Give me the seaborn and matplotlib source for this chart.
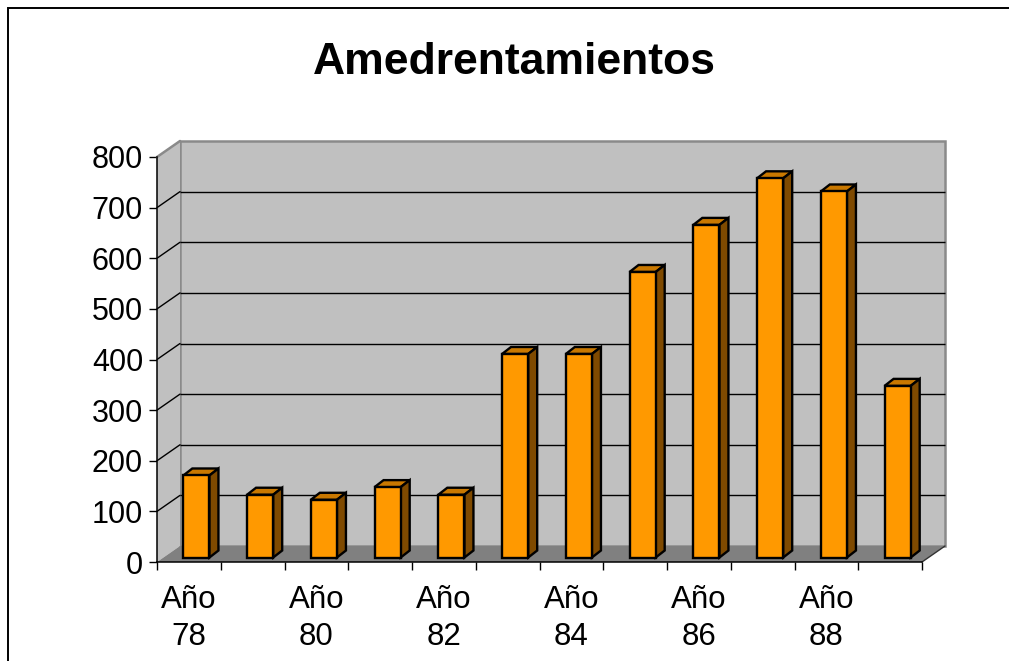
import numpy as np
import pandas as pd
import matplotlib
matplotlib.use("Agg")
import matplotlib.pyplot as plt
import seaborn as sns
from matplotlib.patches import Polygon, Rectangle
from matplotlib.lines import Line2D
from matplotlib.transforms import ScaledTranslation, IdentityTransform

# ---------------- data ----------------
categories = ["Año 78", "Año 79", "Año 80", "Año 81", "Año 82", "Año 83",
              "Año 84", "Año 85", "Año 86", "Año 87", "Año 88", "Año 89"]
values = [162, 124, 114, 139, 124, 402, 402, 564, 657, 749, 723, 339]
y_ticks = [0, 100, 200, 300, 400, 500, 600, 700, 800]
title = "Amedrentamientos"

# ---------------- style ----------------
sns.set_theme(style="white")
plt.rcParams['font.family'] = ['Liberation Sans', 'DejaVu Sans']

W, H, DPI = 1009, 661, 100
fig = plt.figure(figsize=(W / DPI, H / DPI), dpi=DPI)
fig.patch.set_facecolor("white")
ax = fig.add_axes([157 / W, 99 / H, 765 / W, 405 / H])
ax.patch.set_visible(False)

FRONT = "#FF9900"
TOP = "#C97800"
SIDE = "#7F4A00"
WALL_C = "#C0C0C0"
FLOOR_C = "#808080"
WALL_EDGE = "#8A8A8A"

WALL = np.array([23.0, 16.0])       # depth of the plot box, pixels
BAR_FRONT = np.array([7.5, 4.5])    # bar front face offset, pixels
BAR_DEPTH = np.array([9.0, 7.0])    # bar depth, pixels

df = pd.DataFrame({"cat": categories, "val": values})
sns.barplot(data=df, x="cat", y="val", width=0.41, color=FRONT, saturation=1,
            edgecolor="black", linewidth=1.7, ax=ax, zorder=6)
bars = list(ax.patches)

ax.set_xlim(-0.5, len(categories) - 0.5)
ax.set_ylim(y_ticks[0], y_ticks[-1])
ax.set_xlabel("")
ax.set_ylabel("")

x0a, x1a = ax.get_xlim()
y0a, y1a = ax.get_ylim()


def off(d):
    return ax.transData + ScaledTranslation(d[0] / DPI, d[1] / DPI, fig.dpi_scale_trans)


def P(x, y, d=(0, 0)):
    p = ax.transData.transform((x, y))
    return (p[0] + d[0], p[1] + d[1])


ident = IdentityTransform()

# back wall
ax.add_patch(Rectangle((x0a, y0a), x1a - x0a, y1a - y0a, transform=off(WALL),
                       facecolor=WALL_C, edgecolor=WALL_EDGE, linewidth=1.8,
                       zorder=0.5, clip_on=False))
# left wall
ax.add_patch(Polygon([P(x0a, y0a), P(x0a, y1a), P(x0a, y1a, WALL), P(x0a, y0a, WALL)],
                     closed=True, transform=ident, facecolor=WALL_C, edgecolor="none",
                     zorder=0.6, clip_on=False))
ax.add_line(Line2D(*zip(P(x0a, y1a), P(x0a, y1a, WALL)), transform=ident,
                   color=WALL_EDGE, linewidth=1.8, zorder=0.7, clip_on=False))
# back-wall gridlines
ax.hlines(y_ticks[1:-1], x0a, x1a, transform=off(WALL), colors="black",
          linewidth=1.0, zorder=0.8, clip_on=False)
# left-wall gridlines
for yv in y_ticks[1:-1]:
    ax.add_line(Line2D(*zip(P(x0a, yv), P(x0a, yv, WALL)), transform=ident,
                       color="black", linewidth=1.0, zorder=0.8, clip_on=False))
# floor
ax.add_patch(Polygon([P(x0a, y0a), P(x1a, y0a), P(x1a, y0a, WALL), P(x0a, y0a, WALL)],
                     closed=True, transform=ident, facecolor=FLOOR_C, edgecolor="none",
                     zorder=1, clip_on=False))
ax.add_line(Line2D(*zip(P(x1a, y0a), P(x1a, y0a, WALL)), transform=ident,
                   color="#333333", linewidth=1.0, zorder=1.1, clip_on=False))

# 3D bars
for b in bars:
    b.set_transform(off(BAR_FRONT))
    b.set_clip_on(False)
    b.set_joinstyle("miter")
    bx, bw, bh = b.get_x(), b.get_width(), b.get_height()
    F = BAR_FRONT
    B = BAR_FRONT + BAR_DEPTH
    top = [P(bx, bh, F), P(bx + bw, bh, F), P(bx + bw, bh, B), P(bx, bh, B)]
    side = [P(bx + bw, 0, F), P(bx + bw, bh, F), P(bx + bw, bh, B), P(bx + bw, 0, B)]
    ax.add_patch(Polygon(top, closed=True, transform=ident, facecolor=TOP,
                         edgecolor="black", linewidth=1.7, joinstyle="miter",
                         zorder=5, clip_on=False))
    ax.add_patch(Polygon(side, closed=True, transform=ident, facecolor=SIDE,
                         edgecolor="black", linewidth=1.7, joinstyle="miter",
                         zorder=5, clip_on=False))

# axes / ticks
for s in ["top", "right"]:
    ax.spines[s].set_visible(False)
for s in ["left", "bottom"]:
    ax.spines[s].set_visible(True)
    ax.spines[s].set_color("black")
    ax.spines[s].set_linewidth(1.1)
    ax.spines[s].set_zorder(2)

ax.set_yticks(y_ticks)
ax.set_yticklabels([str(v) for v in y_ticks])
ax.tick_params(axis="y", left=True, length=6, width=1.0, color="black",
               pad=4, labelsize=22, labelcolor="black", direction="out")

major = list(range(0, len(categories), 2))
ax.set_xticks(major)
ax.set_xticklabels([categories[i].replace(" ", "\n") for i in major])
ax.set_xticks(np.arange(x0a, x1a + 0.01, 1.0), minor=True)
ax.tick_params(axis="x", which="major", bottom=True, length=0, pad=16.5,
               labelsize=22.5, labelcolor="black")
ax.tick_params(axis="x", which="minor", bottom=True, length=6, width=1.0,
               color="black", direction="out")
for t in ax.get_xticklabels():
    t.set_linespacing(1.32)

ax.set_title(title, fontsize=32, fontweight="bold", color="black",
             x=(514.5 - 157) / 765, y=(661 - 71 - 99) / 405, va="center", ha="center")

# outer chart border (right/bottom fall outside the image)
fig.patches.append(Rectangle((8 / W, -0.2), 1.3, (H - 8) / H + 0.2,
                             transform=fig.transFigure, fill=False,
                             edgecolor="black", linewidth=1.4))

fig.savefig("out.png", dpi=DPI)
